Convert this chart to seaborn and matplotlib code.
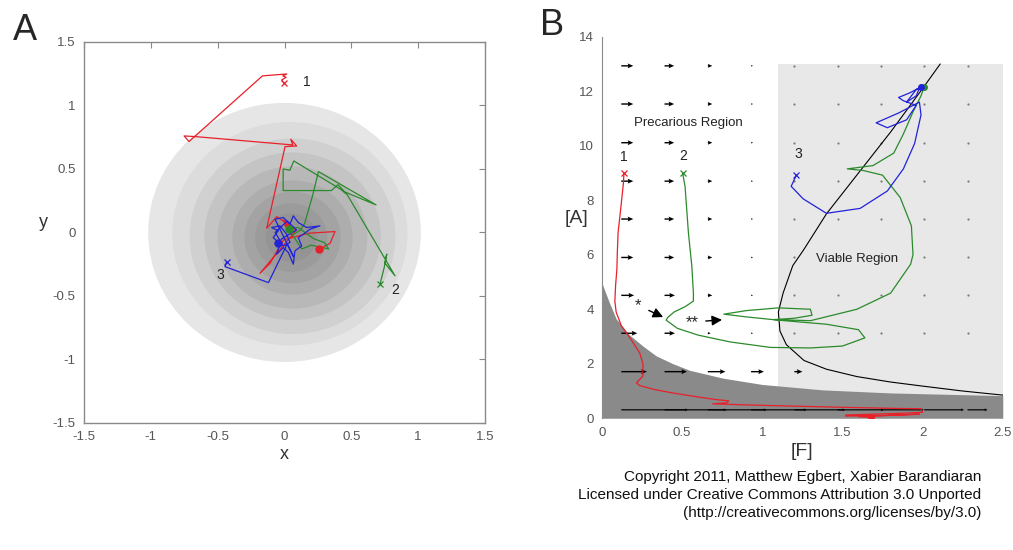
import numpy as np
import matplotlib
matplotlib.use("Agg")
import matplotlib.pyplot as plt
from matplotlib.patches import Circle
from matplotlib.ticker import FormatStrFormatter
import seaborn as sns

sns.set_style("white")
plt.rcParams['font.family'] = ['Liberation Sans', 'DejaVu Sans']
plt.rcParams['axes.unicode_minus'] = False

# ---------------- panel A data ----------------
ring_radii = [1.02, 0.88, 0.77, 0.66, 0.56, 0.45, 0.36, 0.27, 0.19]
ring_cx = [0.0, 0.04, 0.06, 0.06, 0.06, 0.06, 0.06, 0.05, 0.05]
ring_cy = [0.0, -0.01, -0.03, -0.03, -0.04, -0.04, -0.04, -0.04, -0.04]
ring_gray = ['#e6e6e6', '#dcdcdc', '#d0d0d0', '#c4c4c4', '#b8b8b8',
             '#adadad', '#a3a3a3', '#9b9b9b', '#949494']

red_x = [-0.003, -0.021, 0.012, -0.013, 0.017, -0.165, -0.714, -0.751, -0.669,
         0.062, 0.047, 0.091, 0.004, -0.133, -0.058, 0.042, -0.008, 0.06,
         0.0, 0.09, -0.183, -0.108, -0.008, 0.179, 0.378, 0.341, 0.261]
red_y = [1.175, 1.201, 1.222, 1.233, 1.248, 1.233, 0.716, 0.760, 0.755,
         0.689, 0.734, 0.681, 0.676, 0.033, 0.125, 0.05, 0.099, -0.03,
         0.06, 0.02, -0.321, -0.243, -0.059, -0.006, 0.007, -0.085, -0.132]

green_x = [0.715, 0.745, 0.765, 0.75, 0.827, 0.47, 0.42, 0.07, 0.04, -0.01,
           -0.01, 0.35, 0.40, 0.45, 0.685, 0.254, 0.21, 0.15, 0.12, 0.06,
           0.13, 0.2, 0.33, 0.3, 0.22, 0.1, 0.03]
green_y = [-0.405, -0.28, -0.17, -0.24, -0.342, 0.296, 0.34, 0.563, 0.49, 0.50,
           0.33, 0.33, 0.376, 0.32, 0.217, 0.479, 0.29, 0.07, 0.02, -0.02,
           -0.13, -0.1, -0.13, -0.08, -0.05, 0.04, 0.025]

blue_x = [-0.432, -0.445, -0.12, 0.02, 0.067, -0.071, -0.009, 0.041, 0.066, 0.103,
          0.166, 0.265, 0.191, 0.141, 0.103, 0.128, 0.078, 0.066, 0.029, -0.009,
          -0.059, -0.034, -0.084, -0.046, -0.096, -0.034, 0.016, 0.041, -0.009,
          -0.07, 0.02, 0.09, -0.02, -0.046]
blue_y = [-0.229, -0.269, -0.395, -0.09, -0.19, 0.104, 0.118, 0.065, 0.131, 0.078,
          0.039, 0.052, 0.026, -0.014, -0.040, -0.106, -0.145, -0.250, -0.158,
          -0.119, -0.171, -0.092, -0.040, 0.013, 0.039, 0.052, -0.014, -0.079,
          -0.106, 0.0, 0.09, 0.02, -0.05, -0.085]

# ---------------- panel B data ----------------
dark_f = [0.0, 0.046, 0.088, 0.171, 0.255, 0.338, 0.443, 0.547, 0.756, 1.0,
          1.38, 1.8, 2.22, 2.5]
dark_a = [4.95, 4.24, 3.65, 3.06, 2.65, 2.29, 2.0, 1.76, 1.47, 1.24,
          1.04, 0.93, 0.87, 0.83]

null_f = [2.11, 2.0, 1.8, 1.6, 1.4, 1.26, 1.19, 1.13, 1.10, 1.11, 1.15, 1.26,
          1.4, 1.59, 1.8, 2.0, 2.25, 2.5]
null_a = [13.0, 12.1, 10.5, 9.0, 7.5, 6.2, 5.6, 4.6, 3.9, 3.2, 2.7, 2.12,
          1.8, 1.53, 1.33, 1.18, 1.0, 0.85]

grid_f = [0.12, 0.39, 0.66, 0.93, 1.20, 1.47, 1.74, 2.01, 2.28]
grid_a = [12.93, 11.53, 10.11, 8.70, 7.31, 5.90, 4.51, 3.12, 1.71]
arrow_len = [
    [0.075, 0.06, 0.028, 0.012, 0, 0, 0, 0, 0],
    [0.075, 0.06, 0.028, 0.012, 0, 0, 0, 0, 0],
    [0.075, 0.06, 0.028, 0.012, 0, 0, 0, 0, 0],
    [0.075, 0.06, 0.028, 0.012, 0, 0, 0, 0, 0],
    [0.075, 0.06, 0.028, 0.012, 0, 0, 0, 0, 0],
    [0.075, 0.06, 0.028, 0.012, 0, 0, 0, 0, 0],
    [0.08, 0.065, 0.028, 0.012, 0, 0, 0, 0, 0],
    [0.10, 0.065, 0.018, 0.012, 0, 0, 0, 0, 0],
    [0.16, 0.14, 0.11, 0.08, 0.05, None, None, None, None],
]
# bottom row of long arrows (A = 0.31)
low_a = 0.31
low_len = [0.416, 0.387, 0.367, 0.347, 0.318, 0.288, 0.268, 0.248, 0.125]

b_red_f = [0.137, 0.133, 0.115, 0.10, 0.095, 0.093, 0.085, 0.08, 0.088, 0.12,
           0.18, 0.235, 0.255, 0.255, 0.215, 0.235, 0.33, 0.45, 0.6, 0.72,
           0.79, 0.78, 0.69, 0.85, 1.03, 1.3, 1.6, 1.85, 1.99, 2.0, 1.85,
           1.52, 1.52, 1.75, 1.98, 1.6, 1.68]
b_red_a = [9.0, 8.6, 7.6, 6.8, 6.0, 5.5, 4.9, 4.3, 3.9, 3.4,
           2.9, 2.4, 2.0, 1.55, 1.3, 1.2, 1.05, 0.92, 0.78, 0.68,
           0.64, 0.57, 0.53, 0.5, 0.47, 0.43, 0.39, 0.36, 0.35, 0.22, 0.18,
           0.12, 0.08, 0.1, 0.15, 0.06, 0.03]

b_green_f = [0.503, 0.518, 0.539, 0.56, 0.57, 0.57, 0.52, 0.45, 0.41, 0.40,
             0.47, 0.6, 0.8, 1.05, 1.3, 1.5, 1.64, 1.6, 1.4, 1.1, 0.9, 0.76,
             0.9, 1.1, 1.3, 1.31, 1.2, 1.07, 1.3, 1.59, 1.8, 1.925, 1.94,
             1.93, 1.86, 1.75, 1.63, 1.53, 1.61, 1.69, 1.82, 1.88, 1.94,
             1.99, 2.01]
b_green_a = [9.0, 8.5, 6.8, 5.6, 4.6, 4.3, 4.1, 3.9, 3.7, 3.6,
             3.3, 3.05, 2.8, 2.6, 2.58, 2.65, 2.95, 3.25, 3.45, 3.6, 3.72, 3.82,
             3.95, 4.05, 4.0, 3.78, 3.67, 3.62, 3.58, 4.0, 4.59, 5.65, 6.0,
             7.06, 8.1, 8.92, 9.09, 9.15, 9.21, 9.27, 9.73, 10.43, 11.24,
             11.83, 12.17]

b_blue_f = [1.212, 1.18, 1.255, 1.40, 1.61, 1.78, 1.88, 1.95, 1.99, 1.98,
            1.85, 1.71, 1.78, 1.90, 1.96, 1.88, 1.85, 1.92, 1.98, 1.96, 1.90,
            1.96, 1.99]
b_blue_a = [8.92, 8.51, 8.05, 7.52, 7.70, 8.34, 9.15, 10.08, 11.13, 11.6,
            11.2, 10.84, 10.66, 10.95, 11.48, 11.65, 11.77, 11.94, 12.12, 11.83,
            11.6, 12.06, 12.17]

RED, GREEN, BLUE = '#e8202a', '#2b8a2b', '#2222d8'
TICK_GRAY = '#555555'

fig = plt.figure(figsize=(10.13, 5.5), dpi=100)

# ---------------- panel A ----------------
axA = fig.add_axes([0.0829, 0.231, 0.3959, 0.6927])
for r, cx, cy, c in zip(ring_radii, ring_cx, ring_cy, ring_gray):
    axA.add_patch(Circle((cx, cy), r, facecolor=c, edgecolor='none', zorder=0))

for xs, ys, col in [(red_x, red_y, RED), (green_x, green_y, GREEN), (blue_x, blue_y, BLUE)]:
    sns.lineplot(x=xs, y=ys, sort=False, estimator=None, color=col, lw=0.9, ax=axA)
    axA.plot(xs[0], ys[0], marker='x', color=col, ms=5, mew=0.9)
    axA.plot(xs[-1], ys[-1], marker='o', color=col, ms=5, zorder=5)

axA.text(0.141, 1.188, '1', fontsize=10, color='#222222', va='center')
axA.text(0.80, -0.45, '2', fontsize=10, color='#222222', va='center')
axA.text(-0.48, -0.335, '3', fontsize=10, color='#222222', va='center', ha='center')

axA.set_xlim(-1.5, 1.5)
axA.set_ylim(-1.5, 1.5)
axA.set_xticks([-1.5, -1, -0.5, 0, 0.5, 1, 1.5])
axA.set_yticks([-1.5, -1, -0.5, 0, 0.5, 1, 1.5])
axA.xaxis.set_major_formatter(FormatStrFormatter('%g'))
axA.yaxis.set_major_formatter(FormatStrFormatter('%g'))
axA.tick_params(direction='in', top=True, right=True, length=4, width=0.8,
                color='#888888', labelcolor=TICK_GRAY, labelsize=9.5, pad=6)
for sp in axA.spines.values():
    sp.set_color('#8a8a8a')
    sp.set_linewidth(1.0)
axA.set_xlabel('x', fontsize=13, color='#333333')
axA.set_ylabel('y', fontsize=13, color='#333333', rotation=0)
axA.xaxis.set_label_coords(0.499, -0.084)
axA.xaxis.label.set_va('center')
axA.yaxis.set_label_coords(-0.10, 0.525)
axA.yaxis.label.set_va('center')

# ---------------- panel B ----------------
axB = fig.add_axes([0.5943, 0.2395, 0.3956, 0.6938])
axB.fill_between([1.1, 2.5], 0, 13.0, color='#e8e8e8', lw=0, zorder=0)
axB.fill_between(dark_f, 0, dark_a, color='#8a8a8a', lw=0, zorder=1)

sns.lineplot(x=null_f, y=null_a, sort=False, estimator=None, color='black',
             lw=0.8, ax=axB, zorder=3)

qf, qa, qu, df, da = [], [], [], [], []
for a, row in zip(grid_a, arrow_len):
    for f, L in zip(grid_f, row):
        if L is None:
            continue
        if L == 0:
            df.append(f)
            da.append(a)
        else:
            qf.append(f)
            qa.append(a)
            qu.append(L)
axB.quiver(qf, qa, qu, np.zeros(len(qu)), angles='xy', scale_units='xy', scale=1,
           width=0.0035, headwidth=3.5, headlength=4, headaxislength=3.5,
           color='black', zorder=4)
axB.quiver(grid_f, [low_a] * len(grid_f), low_len, np.zeros(len(low_len)),
           angles='xy', scale_units='xy', scale=1, width=0.003, headwidth=2.5,
           headlength=2.5, headaxislength=2.2, color='black', zorder=4)
axB.scatter(df, da, s=2.5, color='#7a7a7a', zorder=2, linewidths=0)

for xs, ys, col in [(b_red_f, b_red_a, RED), (b_green_f, b_green_a, GREEN), (b_blue_f, b_blue_a, BLUE)]:
    sns.lineplot(x=xs, y=ys, sort=False, estimator=None, color=col, lw=0.9, ax=axB, zorder=5)
    axB.plot(xs[0], ys[0], marker='x', color=col, ms=5, mew=0.9, zorder=6)
    axB.plot(xs[-1], ys[-1], marker='o', color=col, ms=4, zorder=6)

axB.annotate('', xy=(0.397, 3.67), xytext=(0.276, 4.0),
             arrowprops=dict(arrowstyle='-|>', color='black', lw=1.0, mutation_scale=15), zorder=7)
axB.annotate('', xy=(0.766, 3.62), xytext=(0.63, 3.56),
             arrowprops=dict(arrowstyle='-|>', color='black', lw=1.0, mutation_scale=15), zorder=7)
axB.text(0.225, 4.12, '*', fontsize=12, ha='center', va='center')
axB.text(0.56, 3.52, '**', fontsize=12, ha='center', va='center')

axB.text(0.135, 9.6, '1', fontsize=10, color='#222222', ha='center', va='center')
axB.text(0.507, 9.62, '2', fontsize=10, color='#222222', ha='center', va='center')
axB.text(1.225, 9.68, '3', fontsize=10, color='#222222', ha='center', va='center')
axB.text(0.54, 10.82, 'Precarious Region', fontsize=9.5, color='#222222', ha='center', va='center')
axB.text(1.59, 5.83, 'Viable Region', fontsize=9.5, color='#222222', ha='center', va='center')

axB.set_xlim(0, 2.5)
axB.set_ylim(0, 14)
axB.set_xticks([0, 0.5, 1, 1.5, 2, 2.5])
axB.set_yticks(range(0, 15, 2))
axB.xaxis.set_major_formatter(FormatStrFormatter('%g'))
axB.tick_params(direction='in', length=4, width=0.8, color='#888888',
                labelcolor=TICK_GRAY, labelsize=9.5, pad=6)
for name, sp in axB.spines.items():
    sp.set_visible(name == 'left')
axB.spines['left'].set_color('#8a8a8a')
axB.set_xlabel('[F]', fontsize=14, color='#333333')
axB.set_ylabel('[A]', fontsize=14, color='#333333', rotation=0)
axB.xaxis.set_label_coords(0.498, -0.0875)
axB.xaxis.label.set_va('center')
axB.yaxis.set_label_coords(-0.063, 0.524)
axB.yaxis.label.set_va('center')

fig.text(0.0247, 0.945, 'A', fontsize=26, ha='center', va='center')
fig.text(0.5446, 0.9545, 'B', fontsize=26, ha='center', va='center')

credit = ['Copyright 2011, Matthew Egbert, Xabier Barandiaran',
          'Licensed under Creative Commons Attribution 3.0 Unported',
          '(http://creativecommons.org/licenses/by/3.0)']
for i, line in enumerate(credit):
    fig.text(0.969, 0.1333 - i * 0.0333, line, fontsize=11, ha='right', va='center', color='#111111')

fig.savefig('out.png', dpi=100)
